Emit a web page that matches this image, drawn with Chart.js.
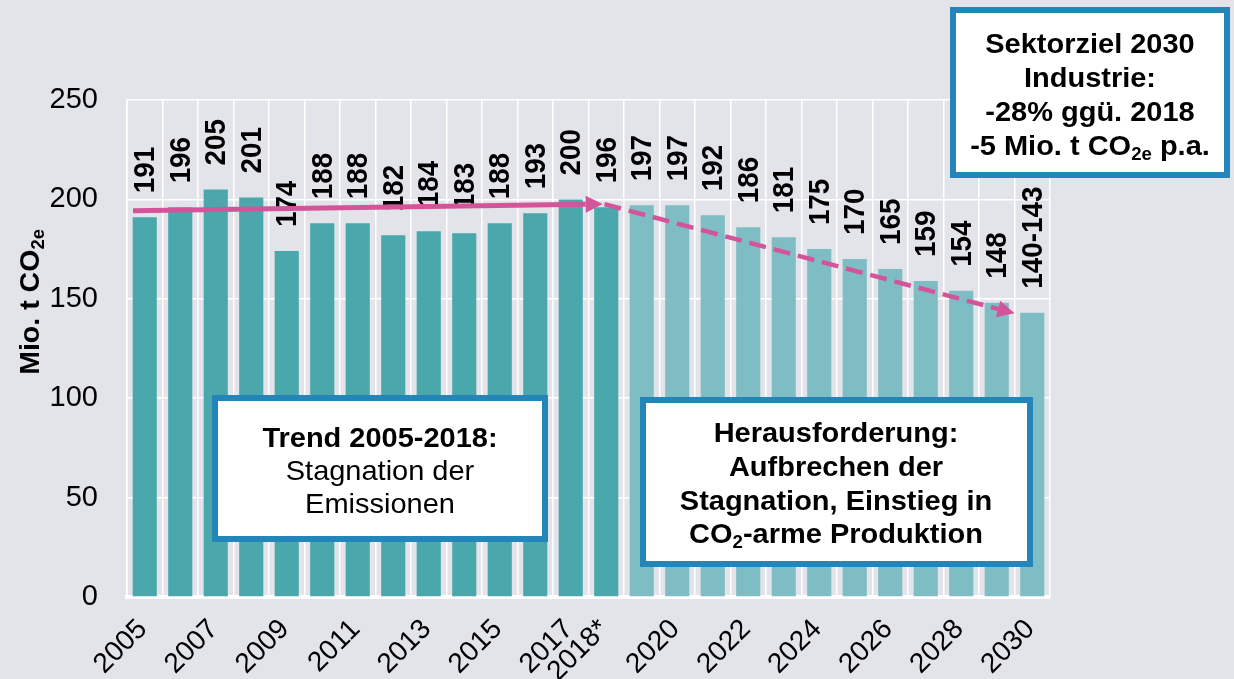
<!DOCTYPE html>
<html><head><meta charset="utf-8">
<script src="https://cdn.jsdelivr.net/npm/chart.js@4/dist/chart.umd.min.js"></script>
<style>html,body{margin:0;padding:0;background:#e3e4e9;overflow:hidden}</style>
</head><body>
<canvas id="c" width="1234" height="679"></canvas>
<script>
// ---- data ----
const years = ['2005','2006','2007','2008','2009','2010','2011','2012','2013','2014','2015','2016','2017','2018',
               '2019','2020','2021','2022','2023','2024','2025','2026','2027','2028','2029','2030'];
const tickLabels = ['2005','','2007','','2009','','2011','','2013','','2015','','2017','2018*',
                    '','2020','','2022','','2024','','2026','','2028','','2030'];
const emissions = [191,196,205,201,174,188,188,182,184,183,188,193,200,196,
                   197,197,192,186,181,175,170,165,159,154,148,143];
const valueLabels = ['191','196','205','201','174','188','188','182','184','183','188','193','200','196',
                     '197','197','192','186','181','175','170','165','159','154','148','140-143'];
const historicCount = 14; // 2005 - 2018 measured, later years = target path
const yTicks = [0,50,100,150,200,250];
// arrows in data space: [categoryIndex, value]
const trendArrow = [[-0.33,194.3],[12.9,197.7]];
const targetArrow = [[12.95,197.6],[24.5,142.7]];

// ---- styles ----
const FONT = "'Liberation Sans', Arial, Helvetica, sans-serif";
const BG = '#e3e4e9';
const DARK = '#4aa8ad';
const LIGHT = '#7fbdc4';
const PINK = '#d4549a';
const BOXBLUE = '#2385b8';

const bgPlugin = {
  id:'bg',
  beforeDraw(chart){
    const c = chart.ctx; c.save(); c.fillStyle = BG; c.fillRect(0,0,chart.width,chart.height); c.restore();
  }
};

function drawRuns(c, runs, cx, cy, size, bold, sx){
  sx = sx || 1;
  const f = (s)=> (bold?'bold ':'') + s + 'px ' + FONT;
  let total = 0;
  runs.forEach(r=>{ c.font = f(r[1]? Math.round(size*0.65): size); total += c.measureText(r[0]).width; });
  c.save();
  c.translate(cx, cy);
  c.scale(sx, 1);
  let x = -total/2;
  c.textAlign = 'left'; c.textBaseline = 'middle';
  runs.forEach(r=>{
    c.font = f(r[1]? Math.round(size*0.65): size);
    c.fillText(r[0], x, (r[1]? size*0.28 : 0));
    x += c.measureText(r[0]).width;
  });
  c.restore();
}

const labelPlugin = {
  id:'valueLabels',
  afterDatasetsDraw(chart){
    const c = chart.ctx;
    const meta = chart.getDatasetMeta(0);
    c.save();
    c.fillStyle = '#000';
    c.font = 'bold 27px ' + FONT;
    c.textAlign = 'left'; c.textBaseline = 'middle';
    meta.data.forEach((bar,i)=>{
      c.save();
      c.translate(bar.x, bar.y - 24);
      c.rotate(-Math.PI/2);
      c.scale(1.03, 1.1);
      c.fillText(valueLabels[i], 0, 1);
      c.restore();
    });
    c.restore();
  }
};

function arrow(c, x1,y1,x2,y2, dashed){
  const dx = x2-x1, dy = y2-y1, L = Math.hypot(dx,dy);
  const ux = dx/L, uy = dy/L;
  const head = 17, hw = 8.5;
  const bx = x2 - ux*head, by = y2 - uy*head;
  c.save();
  c.strokeStyle = PINK; c.fillStyle = PINK; c.lineWidth = dashed ? 4.5 : 5;
  if(dashed) c.setLineDash([17,8]);
  c.beginPath(); c.moveTo(x1,y1); c.lineTo(bx,by); c.stroke();
  c.setLineDash([]);
  c.beginPath();
  c.moveTo(x2,y2);
  c.lineTo(bx - uy*hw, by + ux*hw);
  c.lineTo(bx + uy*hw, by - ux*hw);
  c.closePath(); c.fill();
  c.restore();
}

function box(c, x, y, w, h){
  c.save();
  c.fillStyle = '#fff'; c.fillRect(x,y,w,h);
  c.strokeStyle = BOXBLUE; c.lineWidth = 6;
  c.strokeRect(x+3, y+3, w-6, h-6);
  c.restore();
}

const annoPlugin = {
  id:'anno',
  afterDatasetsDraw(chart){
    const c = chart.ctx, xs = chart.scales.x, ys = chart.scales.y;
    const px = p => [xs.getPixelForValue(p[0]), ys.getPixelForValue(p[1])];
    const a1 = px(trendArrow[0]), a2 = px(trendArrow[1]);
    const b1 = px(targetArrow[0]), b2 = px(targetArrow[1]);
    arrow(c, a1[0],a1[1],a2[0],a2[1], false);
    arrow(c, b1[0],b1[1],b2[0],b2[1], true);

    c.save();
    c.fillStyle = '#000';
    const S = 1.035;
    // Trend box
    box(c, 212, 395, 336, 147);
    drawRuns(c, [['Trend 2005-2018:',false]], 380, 439, 28, true, S);
    drawRuns(c, [['Stagnation der',false]], 380, 472, 28, false, S);
    drawRuns(c, [['Emissionen',false]], 380, 505, 28, false, S);
    // Herausforderung box
    box(c, 640, 397, 393, 170);
    drawRuns(c, [['Herausforderung:',false]], 836, 434, 28, true, S);
    drawRuns(c, [['Aufbrechen der',false]], 836, 468, 28, true, S);
    drawRuns(c, [['Stagnation, Einstieg in',false]], 836, 502, 28, true, S);
    drawRuns(c, [['CO',false],['2',true],['-arme Produktion',false]], 836, 535, 28, true, S);
    // Sektorziel box
    box(c, 950, 7, 280, 171);
    drawRuns(c, [['Sektorziel 2030',false]], 1090, 45, 28, true, S);
    drawRuns(c, [['Industrie:',false]], 1090, 79, 28, true, S);
    drawRuns(c, [['-28% ggü. 2018',false]], 1090, 113, 28, true, S);
    drawRuns(c, [['-5 Mio. t CO',false],['2e',true],[' p.a.',false]], 1090, 147, 28, true, S);

    // y axis title
    c.translate(31, 302);
    c.rotate(-Math.PI/2);
    drawRuns(c, [['Mio. t CO',false],['2e',true]], 0, 0, 28, true, 1.02);
    c.restore();
  }
};

new Chart(document.getElementById('c'), {
  type:'bar',
  data:{
    labels: years,
    datasets:[{
      data: emissions,
      backgroundColor: emissions.map((v,i)=> i < historicCount ? DARK : LIGHT),
      barPercentage: 0.68,
      categoryPercentage: 1.0,
      borderWidth: 0
    }]
  },
  options:{
    responsive:false, animation:false, devicePixelRatio:1,
    layout:{padding:{top:100, right:184, left:0, bottom:0}},
    plugins:{legend:{display:false}, tooltip:{enabled:false}},
    scales:{
      x:{
        grid:{color:'#ffffff', lineWidth:1.5, drawTicks:false, offset:true},
        border:{color:'#ffffff', width:4},
        ticks:{autoSkip:false, maxRotation:45, minRotation:45, padding:16, labelOffset:-2,
               color:'#000', font:{family:FONT, size:28},
               callback:(v,i)=> tickLabels[i]},
        afterFit:s=>{ s.height = 82; }
      },
      y:{
        min:0, max:250,
        afterBuildTicks:s=>{ s.ticks = yTicks.map(v=>({value:v})); },
        grid:{color:'#ffffff', lineWidth:1.5, drawTicks:false},
        border:{color:'#ffffff', width:1.5},
        ticks:{padding:29, color:'#000', font:{family:FONT, size:29}},
        afterFit:s=>{ s.width = 127; }
      }
    }
  },
  plugins:[bgPlugin, labelPlugin, annoPlugin]
});
</script>
</body></html>
